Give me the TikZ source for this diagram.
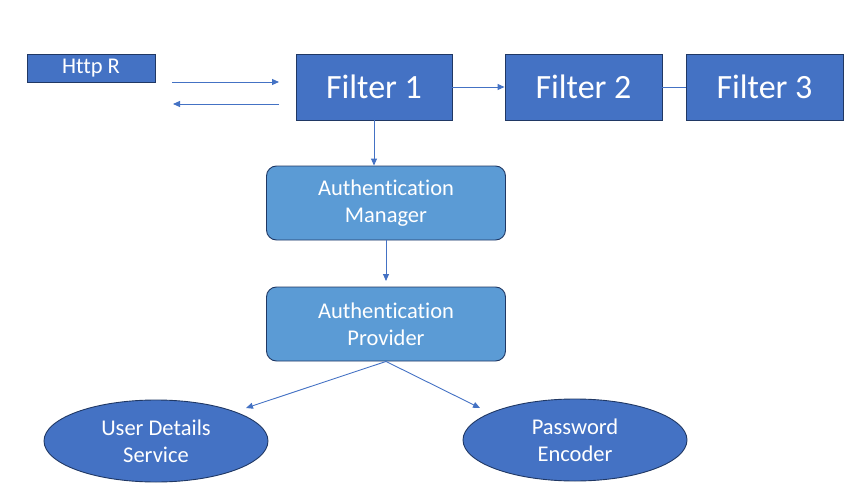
\documentclass[tikz,border=0pt]{standalone}
\usepackage{fontspec}
\setmainfont{Carlito}[Ligatures={NoCommon}]
\usetikzlibrary{arrows.meta,shapes.geometric}
\definecolor{fblue}{HTML}{4472C4}
\definecolor{lblue}{HTML}{5B9BD5}
\definecolor{bdark}{HTML}{203864}
\tikzset{
  filterbox/.style={draw=bdark, fill=fblue, line width=0.9pt, text=white, minimum width=156pt, minimum height=66pt, inner sep=0pt, font=\fontsize{34}{40}\selectfont},
  httpbox/.style={draw=bdark, fill=fblue, line width=0.9pt, text=white, minimum width=128pt, minimum height=28pt, inner sep=0pt, font=\fontsize{22.5}{26}\selectfont},
  authbox/.style={draw=bdark, fill=lblue, line width=0.9pt, text=white, rounded corners=10pt, minimum width=239pt, minimum height=74pt, inner sep=0pt, align=center, font=\fontsize{22.5}{27}\selectfont},
  ellbox/.style={ellipse, draw=bdark, fill=fblue, line width=0.9pt, text=white, minimum width=224pt, minimum height=82pt, inner sep=0pt, align=center, font=\fontsize{22.5}{27}\selectfont},
  conn/.style={draw=fblue, line width=0.9pt, -{Triangle[length=7pt,width=6pt]}},
  plain/.style={draw=fblue, line width=0.9pt},
}
\begin{document}
\begin{tikzpicture}[x=1pt,y=-1pt]
\useasboundingbox (0,0) rectangle (863,495);
\node[httpbox] (http) at (91,68) {Http R};
\node[filterbox] (f1) at (374,87) {Filter 1};
\node[filterbox, minimum width=157pt] (f2) at (583.5,87) {Filter 2};
\node[filterbox, minimum width=157pt] (f3) at (764.5,87) {Filter 3};
\node[authbox] (am) at (386,203) {Authentication\\Manager};
\node[authbox] (ap) at (386,324) {Authentication\\Provider};
\node[ellbox] (uds) at (156,441) {User Details\\Service};
\node[ellbox] (pe) at (575,440) {Password\\Encoder};
\coordinate (ra) at (172,82);
\coordinate (rb) at (279,82);
\coordinate (la) at (279,104);
\coordinate (lb) at (173,104);
\coordinate (amp) at (386,281);
\coordinate (udsp) at (246,408);
\coordinate (pep) at (480,408);
\draw[conn] (ra) -- (rb);
\draw[conn] (la) -- (lb);
\draw[conn] (f1.east) -- (f2.west);
\draw[plain] (f2.east) -- (f3.west);
\draw[conn] (f1.south) -- (f1.south |- am.north);
\draw[conn] (am.south) -- (amp);
\draw[conn] (ap.south) -- (udsp);
\draw[conn] (ap.south) -- (pep);
\end{tikzpicture}
\end{document}
